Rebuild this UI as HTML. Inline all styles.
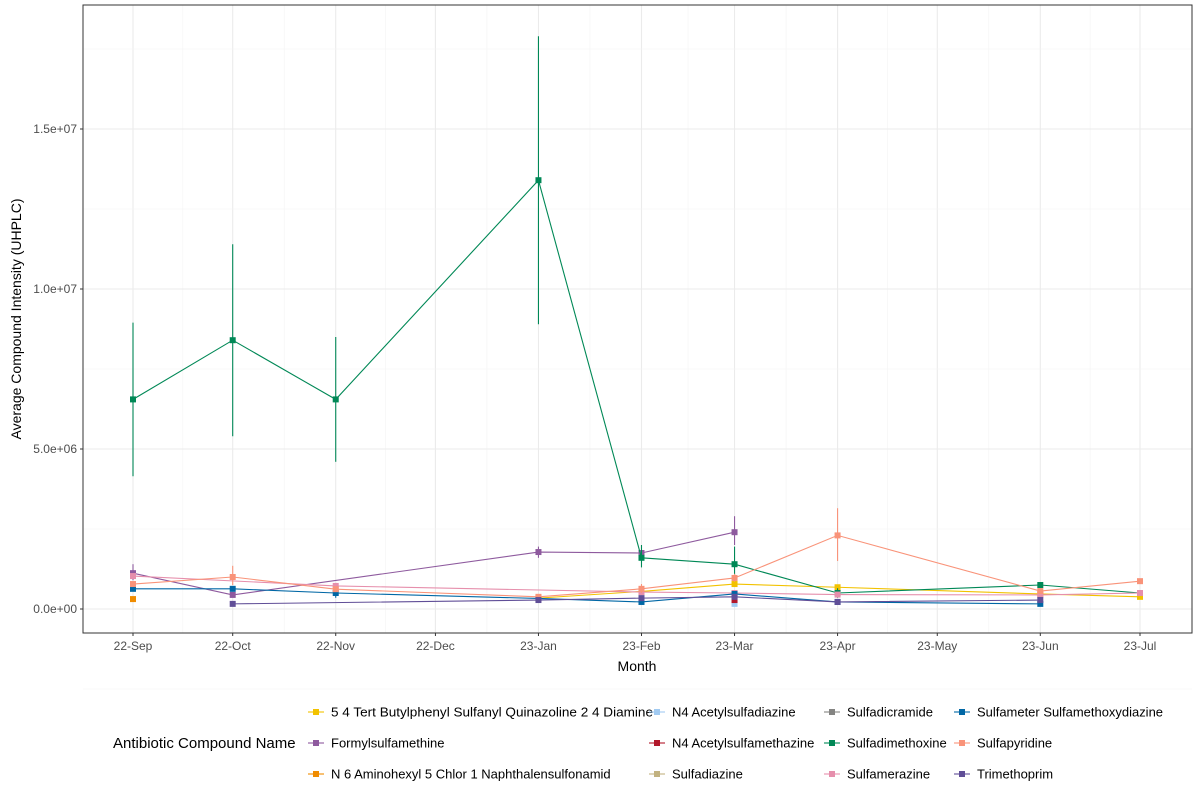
<!DOCTYPE html>
<html><head><meta charset="utf-8"><style>
body{margin:0;background:#fff;font-family:"Liberation Sans",Arial,sans-serif}
svg text{font-family:"Liberation Sans",Arial,sans-serif}
</style></head><body>
<svg id="c" width="1200" height="800"></svg>
<script>
const months=["2022-09","2022-10","2022-11","2022-12","2023-01","2023-02","2023-03","2023-04","2023-05","2023-06","2023-07"];
const monthLabels=["22-Sep","22-Oct","22-Nov","22-Dec","23-Jan","23-Feb","23-Mar","23-Apr","23-May","23-Jun","23-Jul"];
const yTicks=[0,5e6,1e7,1.5e7];
const yTickLabels=["0.0e+00","5.0e+06","1.0e+07","1.5e+07"];
const seriesNames=["5 4 Tert Butylphenyl Sulfanyl Quinazoline 2 4 Diamine","Formylsulfamethine","N 6 Aminohexyl 5 Chlor 1 Naphthalensulfonamid","N4 Acetylsulfadiazine","N4 Acetylsulfamethazine","Sulfadiazine","Sulfadicramide","Sulfadimethoxine","Sulfamerazine","Sulfameter Sulfamethoxydiazine","Sulfapyridine","Trimethoprim"];
const seriesColors=["#F2C200","#8E5A9E","#F08C00","#A1CAF1","#B2182B","#C2B280","#848482","#008856","#E68FAC","#0067A5","#F99379","#604E97"];
// [monthIndex, mean, low, high]
const s0=[[4,0.34e6],[5,0.55e6],[6,0.78e6],[7,0.68e6],[9,0.47e6],[10,0.38e6]];
const s1=[[0,1.12e6,0.9e6,1.4e6],[1,0.44e6],[4,1.78e6,1.6e6,1.95e6],[5,1.75e6],[6,2.4e6,2.0e6,2.9e6]];
const s2=[[0,0.31e6]];
const s3=[[6,0.16e6]];
const s4=[[6,0.28e6]];
const s5=[];
const s6=[];
const s7=[[0,6.55e6,4.15e6,8.95e6],[1,8.4e6,5.4e6,11.4e6],[2,6.55e6,4.6e6,8.5e6],[4,13.4e6,8.9e6,17.9e6],[5,1.6e6,1.3e6,2.0e6],[6,1.4e6,0.9e6,1.95e6],[7,0.5e6,0.35e6,0.65e6],[9,0.75e6],[10,0.5e6]];
const s8=[[0,1.03e6],[2,0.72e6],[5,0.53e6],[6,0.5e6],[7,0.45e6],[9,0.44e6],[10,0.5e6]];
const s9=[[0,0.63e6],[1,0.63e6],[2,0.5e6,0.35e6,0.65e6],[4,0.33e6],[5,0.22e6],[6,0.47e6],[7,0.22e6],[9,0.16e6]];
const s10=[[0,0.78e6],[1,1.0e6,0.75e6,1.35e6],[2,0.62e6],[4,0.38e6],[5,0.63e6,0.5e6,0.78e6],[6,0.97e6,0.85e6,1.1e6],[7,2.3e6,1.5e6,3.15e6],[9,0.56e6],[10,0.87e6,0.78e6,0.95e6]];
const s11=[[1,0.16e6],[4,0.28e6],[5,0.34e6],[6,0.38e6],[7,0.22e6],[9,0.28e6]];
const allSeries=[s0,s1,s2,s3,s4,s5,s6,s7,s8,s9,s10,s11];

const NS="http://www.w3.org/2000/svg",svg=document.getElementById('c');
function el(t,a,p){const e=document.createElementNS(NS,t);for(const k in a)e.setAttribute(k,a[k]);(p||svg).appendChild(e);return e;}
const L=83,R=1192,T=5,B=633;
const d0=new Date(months[0]+"-01").getTime(),dLast=new Date(months[10]+"-01").getTime();
function x(i){const t=new Date(months[i]+"-01").getTime();return 133+(t-d0)/(dLast-d0)*(1140-133);}
function y(v){return 609-v/5e6*160;}
const g=el('g',{});
for(let i=0;i<months.length;i++){el('line',{x1:x(i),x2:x(i),y1:T,y2:B,stroke:'#ebebeb','stroke-width':1.1},g);
 if(i<months.length-1){const xm=(x(i)+x(i+1))/2;el('line',{x1:xm,x2:xm,y1:T,y2:B,stroke:'#f3f3f3','stroke-width':0.6},g);}}
yTicks.forEach((v,i)=>{el('line',{x1:L,x2:R,y1:y(v),y2:y(v),stroke:'#ebebeb','stroke-width':1.1},g);
 el('line',{x1:L,x2:R,y1:y(v+2.5e6),y2:y(v+2.5e6),stroke:'#f3f3f3','stroke-width':0.6},g);});
el('line',{x1:L,x2:R,y1:y(-2.5e6),y2:y(-2.5e6),stroke:'#f3f3f3','stroke-width':0.6},g);
yTicks.forEach((v,i)=>{const t=el('text',{x:L-6,y:y(v)+4,'text-anchor':'end','font-size':12,fill:'#4d4d4d'});t.textContent=yTickLabels[i];
 
 el('line',{x1:L-3,x2:L,y1:y(v),y2:y(v),stroke:'#333'});});
monthLabels.forEach((m,i)=>{const t=el('text',{x:x(i),y:B+17,'text-anchor':'middle','font-size':12,fill:'#4d4d4d'});t.textContent=m;
 
 el('line',{x1:x(i),x2:x(i),y1:B,y2:B+3,stroke:'#333'});});
allSeries.forEach((s,si)=>{
 const grp=el('g',{});
 const c=seriesColors[si];
 if(s.length>1)el('polyline',{points:s.map(p=>x(p[0])+','+y(p[1])).join(' '),fill:'none',stroke:c,'stroke-width':1.1},grp);
 s.forEach(p=>{if(p.length>2){el('line',{x1:x(p[0]),x2:x(p[0]),y1:y(p[2]),y2:y(p[3]),stroke:c,'stroke-width':1.1},grp);}
  el('rect',{x:x(p[0])-3,y:y(p[1])-3,width:6,height:6,fill:c},grp);});
});
el('rect',{x:L,y:T,width:R-L,height:B-T,fill:'none',stroke:'#333','stroke-width':1});
let t=el('text',{x:637,y:671,'text-anchor':'middle','font-size':14});t.textContent='Month';
t=el('text',{x:0,y:0,'text-anchor':'middle','font-size':14,transform:'translate(21,319) rotate(-90)'});t.textContent='Average Compound Intensity (UHPLC)';
t=el('text',{x:113,y:748,'font-size':15});t.textContent='Antibiotic Compound Name';
const colX=[316,657,832,962],rowY=[712,743,774];
seriesNames.forEach((n,i)=>{const cx=colX[Math.floor(i/3)],cy=rowY[i%3];
 const lg=el('g',{});
 el('line',{x1:cx-8,x2:cx+8,y1:cy,y2:cy,stroke:seriesColors[i],'stroke-width':1.1},lg);
 el('rect',{x:cx-3,y:cy-3,width:6,height:6,fill:seriesColors[i]},lg);
 const tt=el('text',{x:cx+15,y:cy+4.5,'font-size':13},lg);tt.textContent=n;
 if(i===0){tt.setAttribute('textLength',322);tt.setAttribute('lengthAdjust','spacingAndGlyphs');}
 if(i===9){tt.setAttribute('textLength',186);tt.setAttribute('lengthAdjust','spacingAndGlyphs');}
});
</script>
</body></html>
